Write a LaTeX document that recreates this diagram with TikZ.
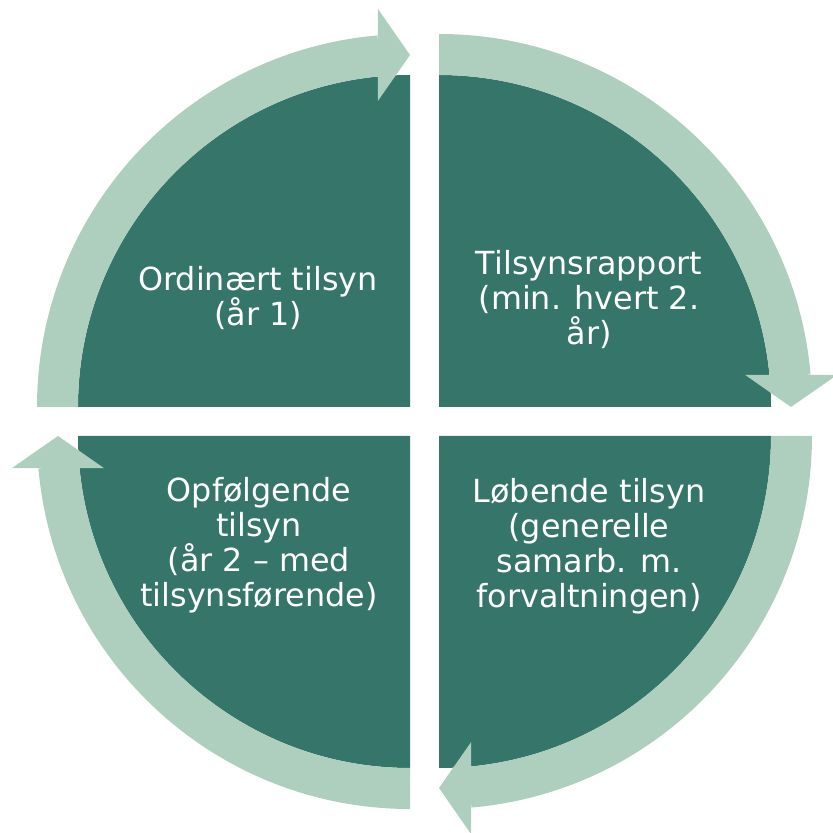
\documentclass[tikz,border=0pt]{standalone}
\usepackage{fontspec}
\setmainfont{DejaVu Sans}
\definecolor{darkteal}{RGB}{54,117,106}
\definecolor{lightsage}{RGB}{174,207,189}
\begin{document}
\begin{tikzpicture}[x=1pt,y=1pt,
  sector/.style={fill=darkteal},
  band/.style={fill=lightsage},
  quadtext/.style={text=white, align=center, inner sep=0pt, font=\fontsize{31.8}{35}\selectfont}]
\useasboundingbox (0,0) rectangle (833,833);
\clip (0,0) rectangle (833,833);
\foreach \cx/\cy/\a in {410/426/0, 439/426/90, 439/397/180, 410/397/270} {
  \begin{scope}[shift={(\cx,\cy)}]
    \fill[sector] (0,0) -- (90-\a:332) arc[start angle=90-\a, end angle=180-\a, radius=332] -- cycle;
    \fill[band] (180-\a:332) -- (180-\a:373) arc[start angle=180-\a, end angle=95-\a, radius=373]
       -- (95-\a:332) arc[start angle=95-\a, end angle=180-\a, radius=332] -- cycle;
    \fill[band] (96-\a:307.7) -- (90-\a:352) -- (94.6-\a:399.3) -- cycle;
  \end{scope}
}
\node[quadtext] (tl) at (258,535) {Ordinært tilsyn\\(år 1)};
\node[quadtext] (tr) at (589,533) {Tilsynsrapport\\(min. hvert 2.\\år)};
\node[quadtext] (br) at (589,287) {Løbende tilsyn\\(generelle\\samarb. m.\\forvaltningen)};
\node[quadtext] (bl) at (259,288) {Opfølgende\\tilsyn\\(år 2 – med\\tilsynsførende)};
\end{tikzpicture}
\end{document}
